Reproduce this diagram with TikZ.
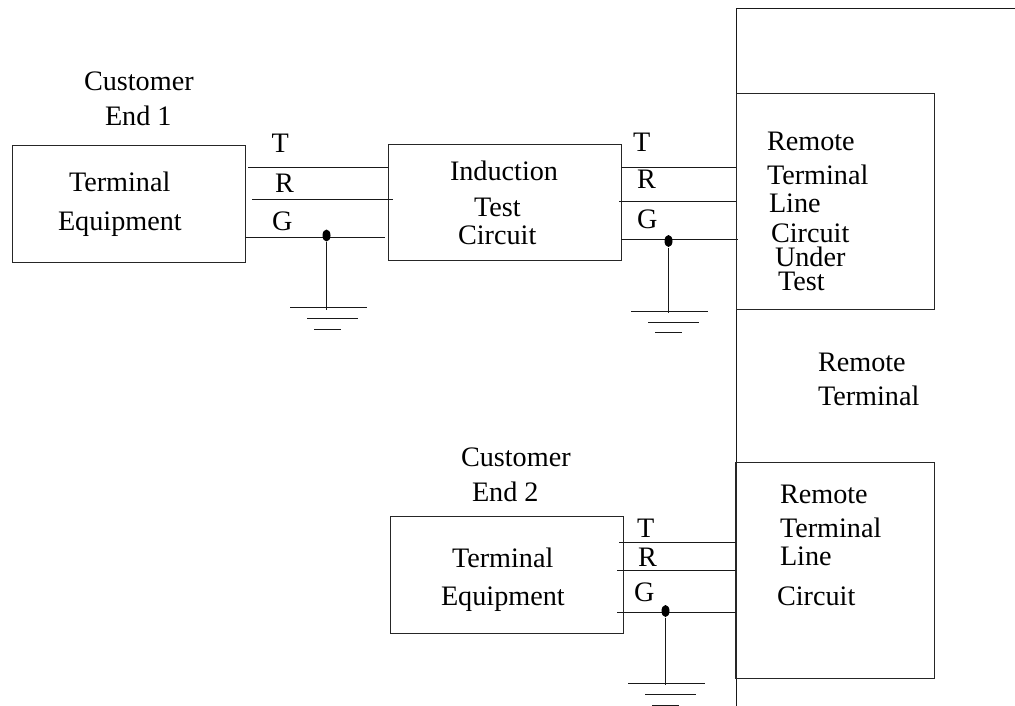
\documentclass[tikz,border=0pt]{standalone}
\usepackage{fontspec}
\usetikzlibrary{shapes.geometric}
\setmainfont{Liberation Serif}
\begin{document}
\begin{tikzpicture}[x=1pt,y=-1pt,
  line width=1pt,
  boxn/.style={draw=black!85,line width=1.1pt,rectangle,inner sep=0pt,outer sep=0pt,minimum width=#1},
  wire/.style={draw=black!90,line width=1pt},
  gnd/.style={draw=black!90,line width=1pt},
  lbl/.style={anchor=base west,inner sep=0pt,outer sep=0pt,font=\fontsize{28.2}{32}\selectfont,text=black},
  dotn/.style={ellipse,fill=black,inner sep=0pt,minimum width=8pt,minimum height=12pt}]
\useasboundingbox (0,0) rectangle (1015,706);

% outer remote terminal outline
\coordinate (oTR) at (1015,8.5);
\coordinate (oTL) at (736.5,8.5);
\coordinate (oB) at (736.5,706);
\draw[wire] (oTR) -- (oTL) -- (oB);

% boxes
\node[boxn=233pt,minimum height=117pt,anchor=north west] (box1) at (12.5,145.5) {};
\node[boxn=233pt,minimum height=116pt,anchor=north west] (box2) at (388.5,144.5) {};
\node[boxn=233pt,minimum height=117pt,anchor=north west] (box3) at (390.5,516.5) {};
\node[boxn=198pt,minimum height=216pt,anchor=north west] (box4) at (736.5,93.5) {};
\node[boxn=198.5pt,minimum height=216pt,anchor=north west] (box5) at (736,462.5) {};

% wires: customer end 1 to induction test circuit
\coordinate (a1) at (248,167.5); \coordinate (a2) at (388,167.5);
\coordinate (b1) at (252,199.5); \coordinate (b2) at (393,199.5);
\coordinate (c1) at (245,237.5); \coordinate (c2) at (385,237.5);
\draw[wire] (a1) -- (a2);
\draw[wire] (b1) -- (b2);
\draw[wire] (c1) -- (c2);
\node[dotn] (d1) at (326.5,235.5) {};
\coordinate (g1) at (d1 |- 0,310);
\draw[wire] (d1) -- (g1);
\coordinate (g1a) at (290,307.5); \coordinate (g1b) at (367,307.5);
\coordinate (g1c) at (307,318.5); \coordinate (g1d) at (358,318.5);
\coordinate (g1e) at (314,329.5); \coordinate (g1f) at (341,329.5);
\draw[gnd] (g1a) -- (g1b);
\draw[gnd] (g1c) -- (g1d);
\draw[gnd] (g1e) -- (g1f);

% wires: induction test circuit to remote line circuit
\coordinate (e1) at (621,167.5); \coordinate (e2) at (736,167.5);
\coordinate (f1) at (619,201.5); \coordinate (f2) at (736,201.5);
\coordinate (h1) at (621,239.5); \coordinate (h2) at (738,239.5);
\draw[wire] (e1) -- (e2);
\draw[wire] (f1) -- (f2);
\draw[wire] (h1) -- (h2);
\node[dotn] (d2) at (668.5,241) {};
\coordinate (g2) at (d2 |- 0,313);
\draw[wire] (d2) -- (g2);
\coordinate (g2a) at (631,311.5); \coordinate (g2b) at (708,311.5);
\coordinate (g2c) at (648,322.5); \coordinate (g2d) at (699,322.5);
\coordinate (g2e) at (655,332.5); \coordinate (g2f) at (682,332.5);
\draw[gnd] (g2a) -- (g2b);
\draw[gnd] (g2c) -- (g2d);
\draw[gnd] (g2e) -- (g2f);

% wires: customer end 2 to remote line circuit
\coordinate (i1) at (619,542.5); \coordinate (i2) at (736,542.5);
\coordinate (j1) at (617,570.5); \coordinate (j2) at (736,570.5);
\coordinate (k1) at (617,612); \coordinate (k2) at (736,612);
\draw[wire] (i1) -- (i2);
\draw[wire] (j1) -- (j2);
\draw[wire] (k1) -- (k2);
\node[dotn] (d3) at (665.5,611) {};
\coordinate (g3) at (d3 |- 0,685);
\draw[wire] (d3) -- (g3);
\coordinate (g3a) at (628,683.5); \coordinate (g3b) at (705,683.5);
\coordinate (g3c) at (645,694.5); \coordinate (g3d) at (696,694.5);
\coordinate (g3e) at (652,705.5); \coordinate (g3f) at (679,705.5);
\draw[gnd] (g3a) -- (g3b);
\draw[gnd] (g3c) -- (g3d);
\draw[gnd] (g3e) -- (g3f);

% labels
\node[lbl] (t1) at (84,91) {Customer};
\node[lbl] (t2) at (105,125.5) {End 1};
\node[lbl] (t3) at (69,191) {Terminal};
\node[lbl] (t4) at (58,230) {Equipment};
\node[lbl] (t5) at (271.5,153) {T};
\node[lbl] (t6) at (275,193) {R};
\node[lbl] (t7) at (272,230) {G};
\node[lbl] (t8) at (450,180) {Induction};
\node[lbl] (t9) at (474,216) {Test};
\node[lbl] (t10) at (458,244) {Circuit};
\node[lbl] (t11) at (633,152) {T};
\node[lbl] (t12) at (637,189) {R};
\node[lbl] (t13) at (637,228) {G};
\node[lbl] (t14) at (767,151) {Remote};
\node[lbl] (t15) at (767,184) {Terminal};
\node[lbl] (t16) at (769,212) {Line};
\node[lbl] (t17) at (771,242) {Circuit};
\node[lbl] (t18) at (775,266) {Under};
\node[lbl] (t19) at (778,290) {Test};
\node[lbl] (t20) at (818,371) {Remote};
\node[lbl] (t21) at (818,405) {Terminal};
\node[lbl] (t22) at (461,466) {Customer};
\node[lbl] (t23) at (472,501) {End 2};
\node[lbl] (t24) at (452,567) {Terminal};
\node[lbl] (t25) at (441,605) {Equipment};
\node[lbl] (t26) at (637,537) {T};
\node[lbl] (t27) at (638,566) {R};
\node[lbl] (t28) at (634,601) {G};
\node[lbl] (t29) at (780,503) {Remote};
\node[lbl] (t30) at (780,537) {Terminal};
\node[lbl] (t31) at (780,565) {Line};
\node[lbl] (t32) at (777,605) {Circuit};
\end{tikzpicture}
\end{document}
